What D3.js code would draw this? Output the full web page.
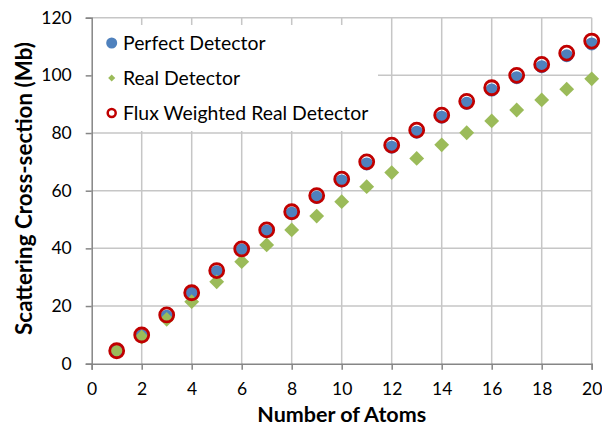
<!DOCTYPE html>
<html>
<head>
<meta charset="utf-8">
<script src="https://cdn.jsdelivr.net/npm/d3@7"></script>
<style>
  body { margin: 0; background: #fff; }
  text { font-family: Lato, "Open Sans", sans-serif; fill: #000; }
</style>
</head>
<body>
<svg id="chart" width="602" height="427"></svg>
<script>
// number of atoms
const atoms = d3.range(1, 21);
// scattering cross-section (Mb)
const perfect = [4.4, 9.7, 16.5, 24.4, 31.9, 39.4, 46.0, 52.2, 57.7, 63.4,
                 69.3, 75.1, 80.3, 85.5, 90.3, 94.9, 99.2, 103.0, 106.8, 110.9];
const real = [4.5, 9.2, 15.4, 21.5, 28.4, 35.4, 41.2, 46.4, 51.2, 56.2,
              61.4, 66.3, 71.2, 75.9, 80.1, 84.2, 88.0, 91.5, 95.2, 98.8];
const fluxWeighted = [4.5, 9.95, 16.9, 24.6, 32.3, 39.8, 46.4, 52.7, 58.3, 64.0,
                      70.0, 75.8, 81.0, 86.2, 91.0, 95.7, 100.0, 103.8, 107.7, 111.9];
const xTicks = d3.range(0, 21, 2);
const yTicks = d3.range(0, 121, 20);
const legendLabels = ["Perfect Detector", "Real Detector", "Flux Weighted Real Detector"];

const margin = {top: 17.7, right: 10.3, bottom: 63.3, left: 91.7};
const W = 602, H = 427;
const svg = d3.select("#chart");

const x = d3.scaleLinear().domain([0, 20]).range([margin.left, W - margin.right]);
const y = d3.scaleLinear().domain([0, 120]).range([H - margin.bottom, margin.top]);

// gridlines
const grid = svg.append("g");
grid.selectAll("line.v").data(xTicks.filter(d => d > 0)).join("line")
    .attr("x1", d => x(d)).attr("x2", d => x(d))
    .attr("y1", y(0)).attr("y2", y(120))
    .attr("stroke", "#c6c6c6").attr("stroke-width", 1.5);
grid.selectAll("line.h").data(yTicks.filter(d => d > 0)).join("line")
    .attr("x1", x(0)).attr("x2", x(20))
    .attr("y1", d => y(d)).attr("y2", d => y(d))
    .attr("stroke", "#c6c6c6").attr("stroke-width", 1.5);

// axes
const xAxis = svg.append("g")
    .attr("transform", `translate(0,${y(0)})`)
    .call(d3.axisBottom(x).tickValues(xTicks).tickSize(6).tickPadding(13));
const yAxis = svg.append("g")
    .attr("transform", `translate(${x(0)},0)`)
    .call(d3.axisLeft(y).tickValues(yTicks).tickSize(6).tickPadding(14));
[xAxis, yAxis].forEach(a => {
    a.select(".domain").attr("stroke", "#868686").attr("stroke-width", 1.5);
    a.selectAll(".tick line").attr("stroke", "#868686").attr("stroke-width", 1.5);
    a.selectAll(".tick text").attr("font-size", 17.5).attr("fill", "#000")
        .style("font-family", "Lato, sans-serif");
});

// legend box (covers gridlines)
const legend = svg.append("g");
legend.append("rect")
    .attr("x", 93).attr("y", 25).attr("width", 285).attr("height", 106)
    .attr("fill", "#fff");

const diamond = d3.symbol().type(d3.symbolDiamond2);

// series
const data = atoms.map((a, i) => ({a, p: perfect[i], r: real[i], f: fluxWeighted[i]}));
svg.append("g").selectAll("circle").data(data).join("circle")
    .attr("cx", d => x(d.a)).attr("cy", d => y(d.p)).attr("r", 6.5)
    .attr("fill", "#4f81bd");
svg.append("g").selectAll("path").data(data).join("path")
    .attr("transform", d => `translate(${x(d.a)},${y(d.r)})`)
    .attr("d", diamond.size(140)())
    .attr("fill", "#9bbb59");
svg.append("g").selectAll("circle").data(data).join("circle")
    .attr("cx", d => x(d.a)).attr("cy", d => y(d.f)).attr("r", 7)
    .attr("fill", "none").attr("stroke", "#c00000").attr("stroke-width", 2.8);

// legend entries
const rowY = [43, 78, 113];
legend.append("circle").attr("cx", 111.7).attr("cy", rowY[0]).attr("r", 5.5).attr("fill", "#4f81bd");
legend.append("path").attr("transform", `translate(111.7,${rowY[1]})`)
    .attr("d", d3.symbol().type(d3.symbolDiamond2).size(32)()).attr("fill", "#9bbb59");
legend.append("circle").attr("cx", 111.7).attr("cy", rowY[2]).attr("r", 4)
    .attr("fill", "none").attr("stroke", "#c00000").attr("stroke-width", 2.5);
legend.selectAll("text").data(legendLabels).join("text")
    .attr("x", 123).attr("y", (d, i) => rowY[i])
    .attr("dy", "0.35em").attr("font-size", 19.4)
    .text(d => d);

// axis titles
svg.append("text")
    .attr("x", x(10)).attr("y", 422)
    .attr("text-anchor", "middle").attr("font-size", 21.5).attr("font-weight", "bold")
    .text("Number of Atoms");
svg.append("text")
    .attr("transform", `translate(32,${(32 + 345) / 2}) rotate(-90)`)
    .attr("text-anchor", "middle").attr("font-size", 22.4).attr("font-weight", "bold")
    .text("Scattering Cross-section (Mb)");
</script>
</body>
</html>
